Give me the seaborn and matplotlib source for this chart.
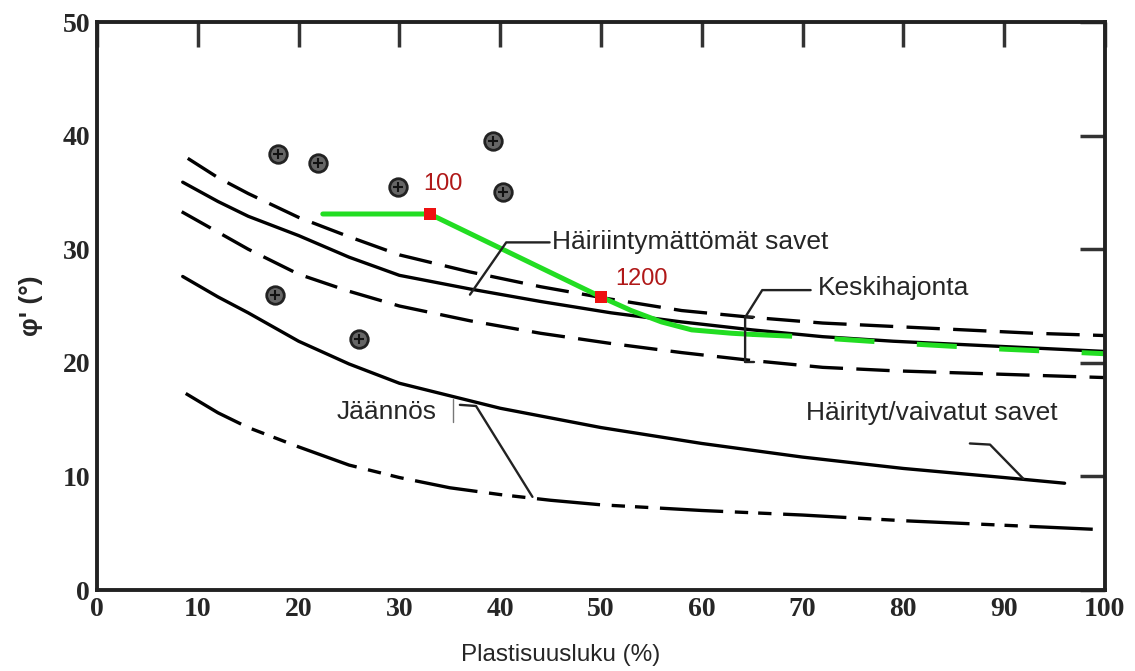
import numpy as np
import pandas as pd
import matplotlib
matplotlib.use("Agg")
import matplotlib.pyplot as plt
import seaborn as sns

# Käyrät luettu kuvasta (x = plastisuusluku %, y = kitkakulma astetta)
x_upper = [9.0, 12, 15, 20, 25, 30, 37, 44, 51, 58, 65, 72, 79, 86, 93, 100]
y_upper = [38.0, 36.3, 34.9, 32.8, 31.1, 29.5, 28.0, 26.7, 25.6, 24.6, 24.0, 23.5, 23.2, 22.9, 22.6, 22.4]

x_mean = [8.5, 12, 15, 20, 25, 30, 37, 44, 51, 58, 65, 72, 79, 86, 93, 100]
y_mean = [35.9, 34.2, 32.9, 31.2, 29.3, 27.7, 26.5, 25.4, 24.4, 23.6, 22.9, 22.3, 21.9, 21.6, 21.3, 21.0]

x_lower = [8.4, 12, 15, 20, 25, 30, 37, 44, 51, 58, 65, 72, 79, 86, 93, 100]
y_lower = [33.3, 31.5, 30.0, 27.8, 26.3, 25.0, 23.7, 22.6, 21.7, 20.9, 20.2, 19.6, 19.3, 19.1, 18.9, 18.7]

x_dist = [8.5, 12, 15, 20, 25, 30, 40, 50, 60, 70, 80, 90, 96]
y_dist = [27.6, 25.8, 24.4, 21.9, 19.9, 18.2, 16.0, 14.3, 12.9, 11.7, 10.7, 9.9, 9.4]

x_resid = [8.8, 12, 15, 20, 25, 30, 35, 40, 45, 50, 60, 70, 80, 90, 100]
y_resid = [17.3, 15.6, 14.3, 12.6, 11.0, 9.9, 9.0, 8.4, 7.9, 7.5, 7.0, 6.6, 6.1, 5.7, 5.3]

# Vihreä tulkintaviiva
x_green = [22.4, 33, 50, 53, 56, 59, 63, 65]
y_green = [33.1, 33.1, 25.8, 24.6, 23.6, 22.9, 22.6, 22.5]
x_green_dash = [65, 70, 80, 90, 100]
y_green_dash = [22.5, 22.3, 21.7, 21.2, 20.8]

x_red = [33, 50]
y_red = [33.1, 25.8]
red_labels = ["100", "1200"]

# Mittauspisteet
x_pts = [18.0, 21.9, 29.9, 39.3, 40.3, 17.7, 26.0]
y_pts = [38.4, 37.6, 35.5, 39.5, 35.0, 26.0, 22.1]

x_ticks = [0, 10, 20, 30, 40, 50, 60, 70, 80, 90, 100]
y_ticks = [0, 10, 20, 30, 40, 50]

sns.set_style("white")
plt.rcParams['font.family'] = ['Liberation Sans', 'DejaVu Sans']

fig = plt.figure(figsize=(11.35, 6.71), dpi=100)
ax = fig.add_axes([0.0855, 0.1207, 0.888, 0.8465])

lw = 2.4
band = dict(color='black', linewidth=lw, dashes=(10, 4))
sns.lineplot(x=x_upper, y=y_upper, ax=ax, **band)
sns.lineplot(x=x_lower, y=y_lower, ax=ax, **band)
sns.lineplot(x=x_mean, y=y_mean, ax=ax, color='black', linewidth=lw)
sns.lineplot(x=x_dist, y=y_dist, ax=ax, color='black', linewidth=lw)
sns.lineplot(x=x_resid, y=y_resid, ax=ax, color='black', linewidth=lw,
             dashes=(19, 3.5, 4, 3, 4, 3.5))

# vihreä viiva
sns.lineplot(x=x_green, y=y_green, ax=ax, color='#22dd22', linewidth=3.6, sort=False)
sns.lineplot(x=x_green_dash, y=y_green_dash, ax=ax, color='#22dd22', linewidth=3.6,
             dashes=(8, 8.5))
sns.scatterplot(x=x_red, y=y_red, ax=ax, marker='s', s=75, color='#ee1111',
                edgecolor='none', zorder=5)
for xr, yr, t, dx, dy in zip(x_red, y_red, red_labels, [-0.6, 1.4], [2.6, 1.6]):
    ax.text(xr + dx, yr + dy, t, color='#b01818', fontsize=17, ha='left', va='center')

# pisteet
sns.scatterplot(x=x_pts, y=y_pts, ax=ax, marker='o', s=160, color='#666666',
                edgecolor='#222222', linewidth=2, zorder=4)
sns.scatterplot(x=x_pts, y=y_pts, ax=ax, marker='+', s=60, color='#111111',
                linewidth=1.5, zorder=6)

# tekstit ja viittausviivat
lead = dict(color='#222222', linewidth=1.7)
fs = 19
ax.text(45.1, 30.6, "Häiriintymättömät savet", fontsize=fs, va='center', ha='left')
ax.plot([44.9, 40.6, 37.0], [30.6, 30.6, 26.0], **lead)

ax.text(71.5, 26.6, "Keskihajonta", fontsize=fs, va='center', ha='left')
ax.plot([70.8, 66.0, 64.3, 64.3], [26.4, 26.4, 24.0, 20.1], **lead)
ax.plot([64.3, 65.2], [24.0, 24.0], **lead)
ax.plot([64.3, 65.2], [20.1, 20.1], **lead)

ax.text(70.3, 15.6, "Häirityt/vaivatut savet", fontsize=fs, va='center', ha='left')
ax.plot([86.6, 88.6, 91.9], [12.9, 12.8, 9.8], **lead)

ax.text(23.8, 15.7, "Jäännös", fontsize=fs, va='center', ha='left')
ax.plot([35.3, 35.3], [14.8, 16.8], color='#777777', linewidth=1)
ax.plot([36.0, 37.6, 43.2], [16.3, 16.2, 8.2], **lead)

ax.set_xlim(0, 100)
ax.set_ylim(0, 50)
ax.set_xticks(x_ticks)
ax.set_yticks(y_ticks)
tick_font = dict(family='Liberation Serif', weight='bold', size=20)
ax.set_xticklabels([str(v) for v in x_ticks], fontdict=tick_font)
ax.set_yticklabels([str(v) for v in y_ticks], fontdict=tick_font)
ax.tick_params(direction='in', length=18, width=2.5, top=True, right=True,
               color='#333333', pad=5)
for s in ax.spines.values():
    s.set_linewidth(2.8)
    s.set_color('#222222')

ax.set_xlabel("Plastisuusluku (%)", fontsize=17.5, labelpad=18)
ax.xaxis.set_label_coords(0.46, -0.095)
ax.set_ylabel("φ' (°)", fontsize=19, fontweight='bold', labelpad=14)

plt.savefig("out.png", dpi=100)
plt.close()
